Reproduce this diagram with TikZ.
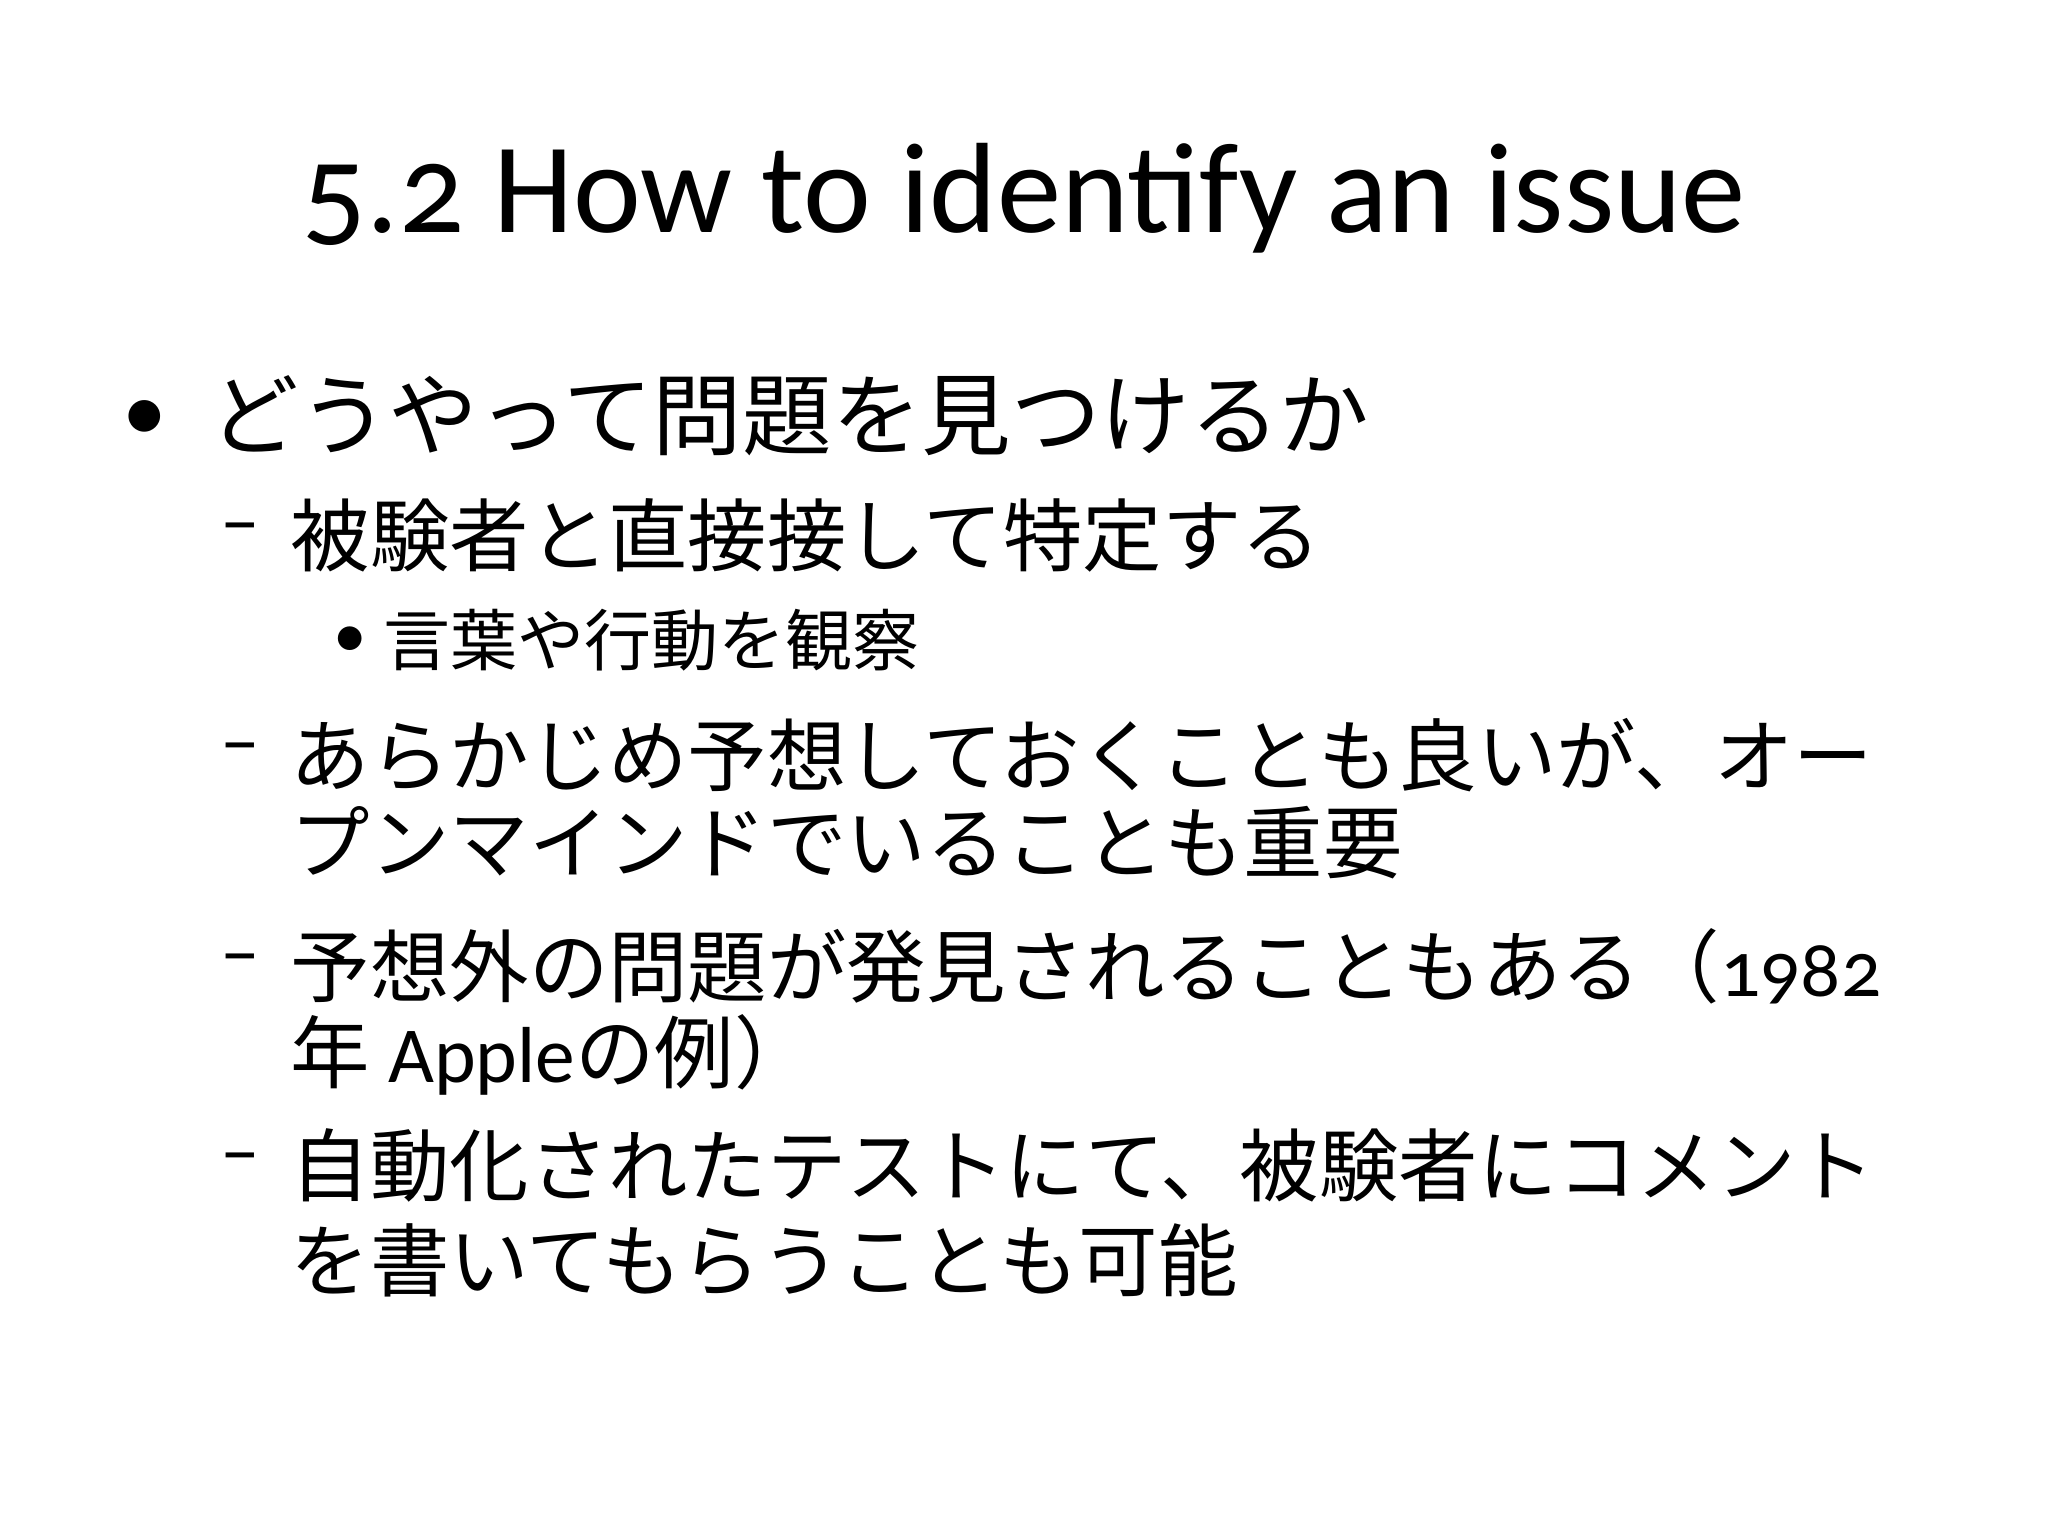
\documentclass[tikz,border=0pt]{standalone}
\usepackage{fontspec}
\setmainfont{Carlito}[Numbers=OldStyle]
\newfontfamily\jp{Noto Sans CJK JP}
\begin{document}
\begin{tikzpicture}[x=1cm,y=-1cm,
  every node/.style={inner sep=0pt,anchor=west},
  lone/.style={font=\fontsize{19.5pt}{22pt}\selectfont},
  ltwo/.style={font=\fontsize{17.3pt}{20pt}\selectfont},
  lthree/.style={font=\fontsize{14.6pt}{17pt}\selectfont}]
\useasboundingbox[fill=white] (0,0) rectangle (15.68,11.76);
\node[anchor=center,font=\fontsize{28pt}{32pt}\selectfont] (title) at (7.84,1.52) {5.2 How to identify an issue};
\node[lone] (b1) at (0.93,3.22) {•};
\node[lone] (t1) at (1.6,3.18) {\jp どうやって問題を見つけるか};
\node[ltwo] (d1) at (1.68,4.1) {–};
\node[ltwo] (t2) at (2.22,4.1) {\jp 被験者と直接接して特定する};
\node[lthree] (b3) at (2.55,4.92) {•};
\node[lthree] (t3) at (2.93,4.9) {\jp 言葉や行動を観察};
\node[ltwo] (d2) at (1.68,5.78) {–};
\node[ltwo] (t4) at (2.22,5.78) {\jp あらかじめ予想しておくことも良いが、オー};
\node[ltwo] (t4b) at (2.22,6.45) {\jp プンマインドでいることも重要};
\node[ltwo] (d3) at (1.68,7.4) {–};
\node[ltwo] (t5) at (2.22,7.4) {\jp 予想外の問題が発見されることもある（\rmfamily 1982};
\node[ltwo] (t5b) at (2.22,8.08) {\jp 年\rmfamily\ Apple\jp の例）};
\node[ltwo] (d4) at (1.68,8.92) {–};
\node[ltwo] (t6) at (2.22,8.92) {\jp 自動化されたテストにて、被験者にコメント};
\node[ltwo] (t6b) at (2.22,9.65) {\jp を書いてもらうことも可能};
\end{tikzpicture}
\end{document}
